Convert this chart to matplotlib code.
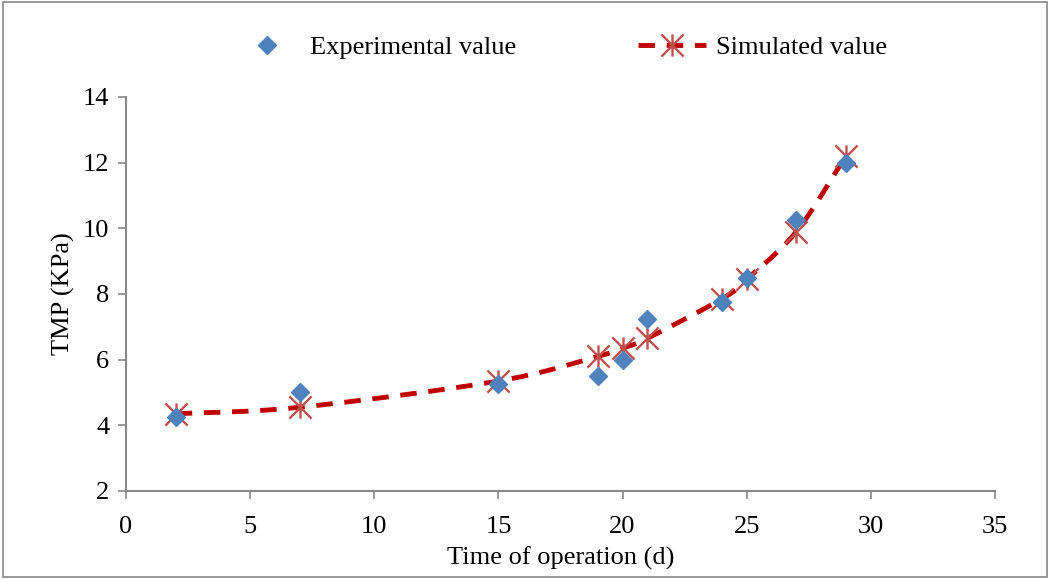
import numpy as np
import matplotlib.pyplot as plt
from matplotlib.path import Path

plt.rcParams['font.family'] = ['Liberation Serif', 'DejaVu Serif']

days = [2, 7, 15, 19, 20, 21, 24, 25, 27, 29]
tmp_exp = [4.25, 5.0, 5.25, 5.5, 6.0, 7.25, 7.75, 8.5, 10.25, 12.0]
tmp_sim = [4.35, 4.55, 5.35, 6.1, 6.35, 6.65, 7.85, 8.45, 9.9, 12.2]

x_ticks = [0, 5, 10, 15, 20, 25, 30, 35]
y_ticks = [2, 4, 6, 8, 10, 12, 14]

# excel style star: an x with a vertical bar
star = Path([(-1, -1), (1, 1), (-1, 1), (1, -1), (0, -1), (0, 1)],
            [Path.MOVETO, Path.LINETO, Path.MOVETO, Path.LINETO, Path.MOVETO, Path.LINETO])


def smooth(xs, ys, n=20):
    # catmull-rom curve, like excel's smoothed line
    xs = np.asarray(xs, float)
    ys = np.asarray(ys, float)
    px = np.concatenate([[2 * xs[0] - xs[1]], xs, [2 * xs[-1] - xs[-2]]])
    py = np.concatenate([[2 * ys[0] - ys[1]], ys, [2 * ys[-1] - ys[-2]]])
    t = np.linspace(0, 1, n)[:, None]
    outx, outy = [], []
    for i in range(1, len(px) - 2):
        for p, out in ((px, outx), (py, outy)):
            p0, p1, p2, p3 = p[i - 1], p[i], p[i + 1], p[i + 2]
            seg = 0.5 * (2 * p1 + (-p0 + p2) * t + (2 * p0 - 5 * p1 + 4 * p2 - p3) * t ** 2
                         + (-p0 + 3 * p1 - 3 * p2 + p3) * t ** 3)
            out.extend(seg.ravel())
    return outx, outy


fs = 19
red_line = dict(color='#C00000', lw=3.5, dashes=(3.4, 2.4))
star_mk = dict(marker=star, ms=16, mec='#C0504D', mew=1.7)

fig = plt.figure(figsize=(10.5, 5.79), dpi=100)
ax = fig.add_axes([0.12, 0.152, 0.8276, 0.6805])

sx, sy = smooth(days, tmp_sim)
ax.plot(sx, sy, zorder=2, **red_line)
ax.plot(days, tmp_sim, ls='none', zorder=3, **star_mk)
ax.plot(days, tmp_exp, ls='none', marker='D', ms=9, color='#4F81BD', zorder=4)

# legend handles
ax.plot([], [], ls='none', marker='D', ms=9, color='#4F81BD', label='Experimental value')
ax.plot([], [], label='Simulated value', **red_line, **star_mk)
h, l = ax.get_legend_handles_labels()
ax.legend(h, l, loc='center', bbox_to_anchor=(0.499, 1.125), ncol=2, frameon=False,
          fontsize=fs, columnspacing=4.6, handlelength=2.6, handletextpad=0.35)

ax.set_xlim(0, 35)
ax.set_ylim(2, 14)
ax.set_xticks(x_ticks)
ax.set_yticks(y_ticks)
ax.tick_params(labelsize=fs, direction='out', length=6, width=1.2, color='#888888')
ax.tick_params(axis='x', pad=12)
ax.tick_params(axis='y', pad=6)
for s in ('top', 'right'):
    ax.spines[s].set_visible(False)
for s in ('left', 'bottom'):
    ax.spines[s].set_color('#888888')
    ax.spines[s].set_linewidth(1.5)

ax.set_xlabel('Time of operation (d)', fontsize=fs, labelpad=6)
ax.set_ylabel('TMP (KPa)', fontsize=fs, labelpad=6)

fig.patches.append(plt.Rectangle((0.003, 0.004), 0.994, 0.992, transform=fig.transFigure,
                                 fill=False, ec='#888888', lw=1.2))

fig.savefig('out.png', dpi=100)
